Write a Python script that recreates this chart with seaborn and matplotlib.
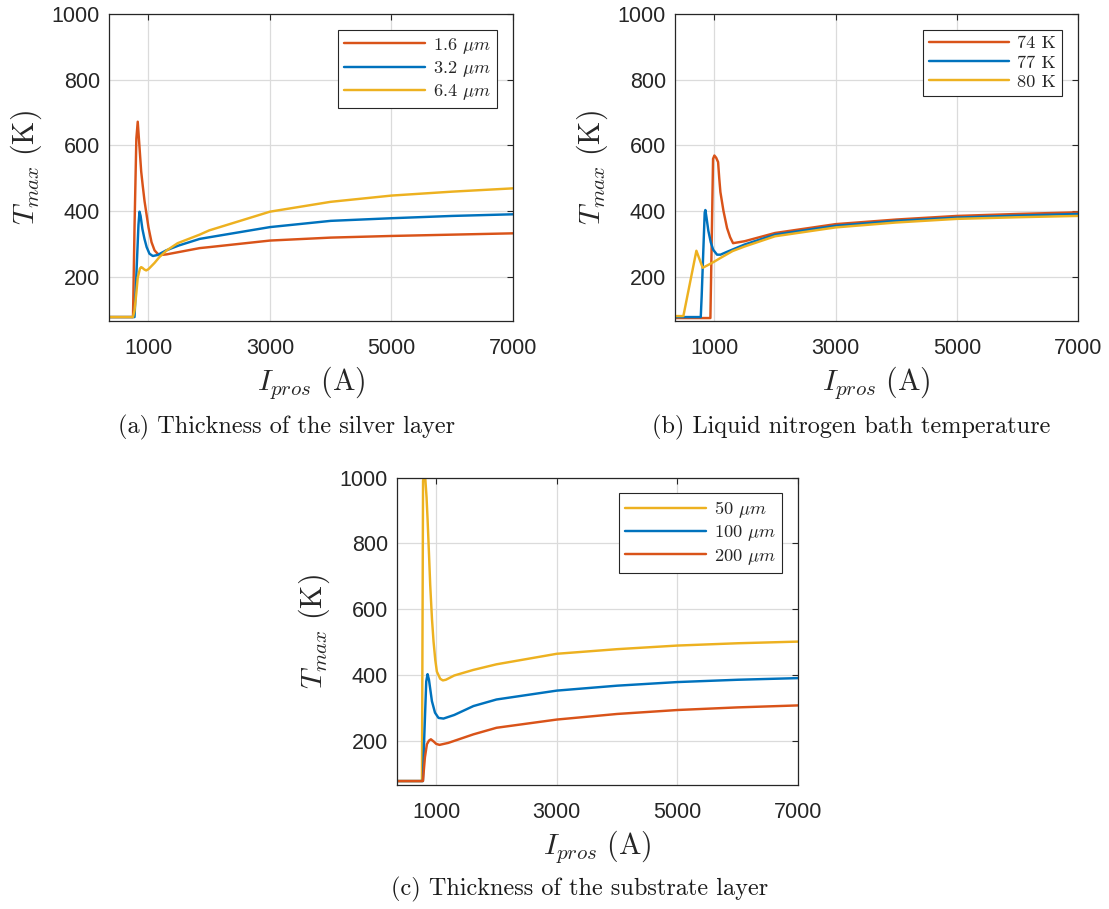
import numpy as np
import pandas as pd
import matplotlib
matplotlib.use('Agg')
import matplotlib.pyplot as plt
import seaborn as sns

# MATLAB default colours
RED = '#D95319'
BLUE = '#0072BD'
YELLOW = '#EDB120'

# (a) thickness of the silver layer
I_a_16 = [350, 745, 770, 800, 823, 850, 880, 906, 935, 962, 1000, 1050, 1100, 1150, 1200, 1300, 1500, 1842, 2000, 3000, 4000, 5000, 6000, 7000]
T_a_16 = [77, 77, 350, 620, 672, 600, 520, 476, 430, 397, 350, 305, 280, 270, 266, 268, 275, 287, 290, 310, 319, 324, 328, 332]
I_a_32 = [350, 770, 785, 835, 852, 870, 900, 934, 970, 1016, 1071, 1150, 1290, 1500, 1842, 2000, 3000, 4000, 5000, 6000, 7000]
T_a_32 = [77, 77, 137, 358, 398, 385, 345, 315, 290, 270, 263, 266, 280, 295, 315, 320, 351, 370, 378, 385, 390]
I_a_64 = [350, 745, 769, 800, 823, 860, 879, 900, 930, 962, 1000, 1100, 1181, 1300, 1480, 1842, 2000, 3000, 4000, 5000, 6000, 7000]
T_a_64 = [77, 77, 96, 150, 197, 225, 229, 227, 222, 219, 223, 242, 260, 280, 302, 328, 341, 398, 428, 447, 459, 469]

# (b) liquid nitrogen bath temperature
I_b_74 = [350, 934, 955, 978, 1000, 1030, 1061, 1080, 1099, 1150, 1209, 1260, 1308, 1500, 2000, 3000, 4000, 5000, 6000, 7000]
T_b_74 = [74, 74, 300, 559, 569, 562, 549, 500, 458, 400, 348, 320, 302, 308, 333, 360, 374, 385, 391, 396]
I_b_77 = [350, 775, 790, 840, 851, 870, 900, 940, 980, 1044, 1100, 1200, 1500, 2000, 3000, 4000, 5000, 6000, 7000]
T_b_77 = [77, 77, 140, 395, 403, 380, 340, 305, 282, 267, 267, 275, 298, 328, 355, 370, 380, 386, 391]
I_b_80 = [350, 488, 703, 807, 900, 1000, 1100, 1300, 1500, 2000, 3000, 4000, 5000, 6000, 7000]
T_b_80 = [80, 80, 279, 227, 236, 246, 257, 278, 292, 323, 350, 365, 376, 381, 385]

# (c) thickness of the substrate layer
I_c_50 = [350, 764, 782, 795, 818, 840, 857, 880, 901, 930, 956, 985, 1011, 1066, 1110, 1160, 1300, 1617, 2000, 3000, 4000, 5000, 6000, 7000]
T_c_50 = [77, 77, 990, 1000, 1000, 940, 873, 770, 672, 570, 501, 445, 410, 388, 383, 385, 398, 415, 432, 464, 478, 489, 496, 501]
I_c_100 = [350, 780, 800, 835, 857, 880, 929, 980, 1038, 1121, 1300, 1617, 2000, 3000, 4000, 5000, 6000, 7000]
T_c_100 = [77, 77, 200, 380, 402, 385, 320, 285, 269, 267, 278, 305, 325, 352, 367, 378, 385, 390]
I_c_200 = [350, 780, 813, 846, 880, 912, 960, 1000, 1055, 1200, 1617, 2000, 3000, 4000, 5000, 6000, 7000]
T_c_200 = [77, 77, 149, 189, 200, 204, 197, 190, 187, 193, 219, 239, 264, 281, 293, 301, 307]

XTICKS = [1000, 3000, 5000, 7000]
YTICKS = [200, 400, 600, 800, 1000]

sns.set_theme(style='whitegrid')
plt.rcParams['font.family'] = ['Liberation Sans', 'DejaVu Sans']
plt.rcParams['mathtext.fontset'] = 'cm'


def panel(ax, series):
    frames = [pd.DataFrame({'I': x, 'T': y, 'case': name}) for name, x, y, c in series]
    df = pd.concat(frames, ignore_index=True)
    names = [s[0] for s in series]
    pal = {s[0]: s[3] for s in series}
    sns.lineplot(data=df, x='I', y='T', hue='case', hue_order=names, palette=pal,
                 estimator=None, sort=False, linewidth=1.75, ax=ax)
    handles, labels = ax.get_legend_handles_labels()
    for h in handles:
        h.set_linewidth(1.75)
    leg = ax.legend(handles, labels, loc='upper right', prop={'family': 'cmr10', 'size': 13.2},
                    frameon=True, fancybox=False, framealpha=1, edgecolor='0.15',
                    handlelength=4.4, handletextpad=0.45, borderaxespad=0.85,
                    labelspacing=0.18, borderpad=0.33)
    leg.get_frame().set_linewidth(0.8)

    ax.set_xlim(350, 7000)
    ax.set_ylim(65, 1000)
    ax.set_xticks(XTICKS)
    ax.set_yticks(YTICKS)
    ax.set_facecolor('white')
    ax.grid(True, color='0.86', linewidth=0.9)
    for sp in ax.spines.values():
        sp.set_visible(True)
        sp.set_color('0.15')
        sp.set_linewidth(0.9)
    ax.tick_params(direction='in', length=4, width=0.8, top=True, right=True,
                   labelsize=15.5, color='0.15', labelcolor='0.15')
    ax.tick_params(axis='x', pad=12)
    ax.tick_params(axis='y', pad=6.5)
    ax.set_xlabel(r'$I_{pros}\ \mathrm{(A)}$', fontsize=21.5, labelpad=4)
    ax.set_ylabel(r'$T_{max}\ \mathrm{(K)}$', fontsize=21.5, labelpad=5.5)


fig = plt.figure(figsize=(11.09, 9.09), dpi=100)
W, H = 1109, 909
ax_a = fig.add_axes([109 / W, 1 - 321 / H, 404 / W, 307 / H])
ax_b = fig.add_axes([675 / W, 1 - 321 / H, 403 / W, 307 / H])
ax_c = fig.add_axes([397 / W, 1 - 785 / H, 401 / W, 307.5 / H])

panel(ax_a, [(r'1.6 $\mu m$', I_a_16, T_a_16, RED),
             (r'3.2 $\mu m$', I_a_32, T_a_32, BLUE),
             (r'6.4 $\mu m$', I_a_64, T_a_64, YELLOW)])
panel(ax_b, [('74 K', I_b_74, T_b_74, RED),
             ('77 K', I_b_77, T_b_77, BLUE),
             ('80 K', I_b_80, T_b_80, YELLOW)])
panel(ax_c, [(r'50 $\mu m$', I_c_50, T_c_50, YELLOW),
             (r'100 $\mu m$', I_c_100, T_c_100, BLUE),
             (r'200 $\mu m$', I_c_200, T_c_200, RED)])

cap = dict(ha='center', va='center', fontfamily='cmr10', fontsize=17.5, color='0.1')
fig.text(286 / W, 1 - 427 / H, '(a) Thickness of the silver layer', **cap)
fig.text(851 / W, 1 - 427 / H, '(b) Liquid nitrogen bath temperature', **cap)
fig.text(580 / W, 1 - 889 / H, '(c) Thickness of the substrate layer', **cap)

fig.savefig('out.png', dpi=100, facecolor='white')
